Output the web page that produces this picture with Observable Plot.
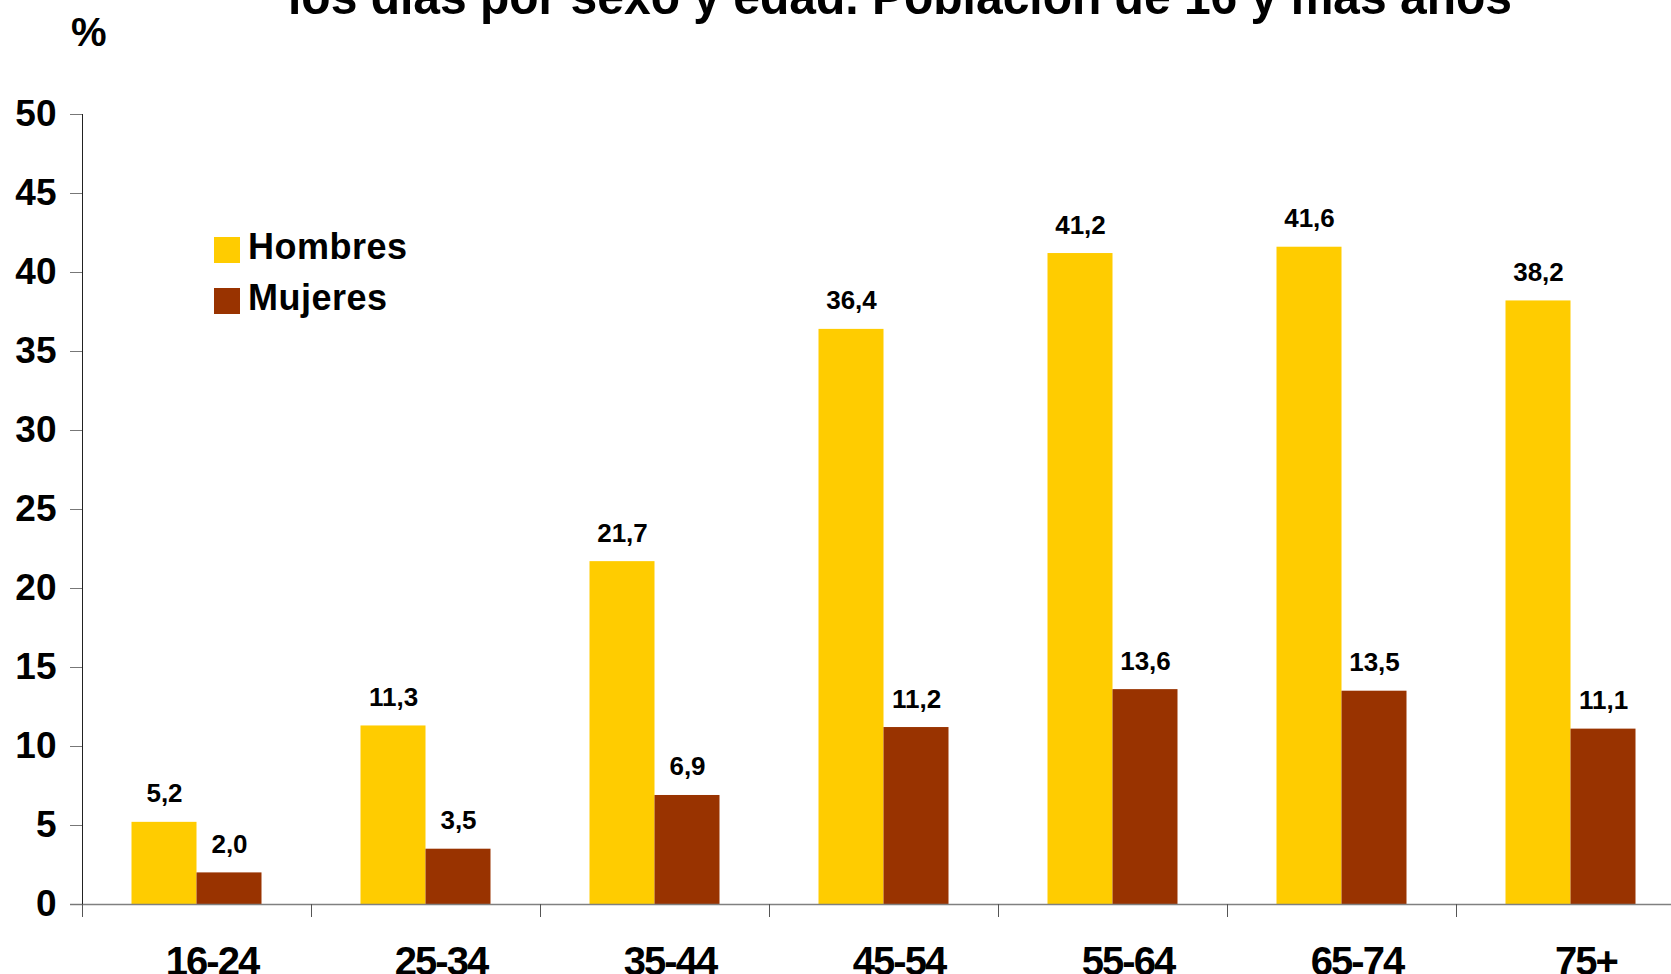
<!DOCTYPE html>
<html>
<head>
<meta charset="utf-8">
<script src="https://cdn.jsdelivr.net/npm/d3@7"></script>
<script src="https://cdn.jsdelivr.net/npm/@observablehq/plot@0.6"></script>
<style>
  body { margin: 0; background: #fff; overflow: hidden; font-family: "Liberation Sans", Arial, sans-serif; }
  #wrap { position: relative; width: 1671px; height: 974px; overflow: hidden; background: #fff; }
  #overlay { position: absolute; left: 0; top: 0; pointer-events: none; }
  #legend { position: absolute; left: 214px; top: 221px; font-weight: bold; font-size: 36px; color: #000; letter-spacing: 0.5px; }
  #legend .row { display: flex; align-items: center; height: 51px; }
  #legend .sw { width: 26px; height: 26px; margin-right: 8px; margin-top: 6px; }
</style>
</head>
<body>
<div id="wrap"></div>
<script>
// ---- data ----
const ages = ["16-24", "25-34", "35-44", "45-54", "55-64", "65-74", "75+"];
const series = ["Hombres", "Mujeres"];
const hombres = [5.2, 11.3, 21.7, 36.4, 41.2, 41.6, 38.2];
const mujeres = [2.0, 3.5, 6.9, 11.2, 13.6, 13.5, 11.1];
const yTicks = [0, 5, 10, 15, 20, 25, 30, 35, 40, 45, 50];
const colors = ["#FFCC00", "#993300"];
const titleText = "los días por sexo y edad. Población de 16 y más años";
const unitLabel = "%";

const data = ages.flatMap((a, i) => [
  {age: a, sex: series[0], value: hombres[i]},
  {age: a, sex: series[1], value: mujeres[i]}
]);
const fmt = v => v.toFixed(1).replace(".", ",");

// ---- layout ----
const W = 1671, H = 974;
const step = 229, barW = 65, pad = 49.5;
const xLeft = 82;
const font = '"Liberation Sans", Arial, sans-serif';

const isH = d => d.sex === series[0];
const isM = d => d.sex === series[1];

const chart = Plot.plot({
  width: W, height: H,
  marginTop: 114, marginBottom: 70, marginLeft: xLeft, marginRight: 0,
  style: {fontFamily: font, background: "white", color: "black", overflow: "visible"},
  x: {domain: ages, range: [xLeft, xLeft + step * ages.length], padding: 0},
  y: {domain: [0, 50], range: [904, 114]},
  color: {domain: series, range: colors},
  marks: [
    Plot.barY(data.filter(isH), {x: "age", y: "value", fill: "sex", insetLeft: pad, insetRight: step - pad - barW}),
    Plot.barY(data.filter(isM), {x: "age", y: "value", fill: "sex", insetLeft: pad + barW, insetRight: step - pad - 2 * barW}),
    Plot.text(data.filter(isH), {x: "age", y: "value", text: d => fmt(d.value), dx: -barW / 2, dy: -20, lineAnchor: "bottom", fontSize: 26, fontWeight: "bold", fill: "black"}),
    Plot.text(data.filter(isM), {x: "age", y: "value", text: d => fmt(d.value), dx: barW / 2, dy: -20, lineAnchor: "bottom", fontSize: 26, fontWeight: "bold", fill: "black"}),
    Plot.ruleY([0], {stroke: "#808080", strokeWidth: 1.5, insetLeft: -12}),
    Plot.ruleX([ages[0]], {dx: -step / 2, y1: 0, y2: 50, stroke: "#222", strokeWidth: 1}),
    Plot.axisY({ticks: yTicks, tickSize: 12, tickPadding: 14, fontSize: 37, fontWeight: "bold", stroke: "#777", label: null}),
    Plot.axisX({tickSize: 13, tickFormat: () => "", dx: -step / 2, stroke: "#555", label: null}),
    Plot.axisX({tickSize: 0, tickPadding: 42, fontSize: 40, fontWeight: "bold", dx: 15, label: null})
  ]
});

const wrap = document.getElementById("wrap");
wrap.appendChild(chart);

// text colours & condensed x labels
d3.select(chart).selectAll('g[aria-label="y-axis tick label"]').attr("fill", "black");
d3.select(chart).selectAll('g[aria-label="y-axis tick label"] text').attr("fill", "black");
d3.select(chart).selectAll('g[aria-label="x-axis tick label"]').attr("fill", "black").style("letter-spacing", "-2px");

// overlay: title (cut off at top) and unit label
const ov = d3.select(wrap).append("svg").attr("id", "overlay").attr("width", W).attr("height", 80);
ov.append("text")
  .attr("x", 900).attr("y", 14)
  .attr("text-anchor", "middle")
  .attr("font-family", font).attr("font-weight", "bold").attr("font-size", 50)
  .attr("textLength", 1224).attr("lengthAdjust", "spacingAndGlyphs")
  .text(titleText);
ov.append("text")
  .attr("x", 88.7).attr("y", 46)
  .attr("text-anchor", "middle")
  .attr("font-family", font).attr("font-weight", "bold").attr("font-size", 40)
  .text(unitLabel);

// legend
const lg = d3.select(wrap).append("div").attr("id", "legend");
series.forEach((s, i) => {
  const row = lg.append("div").attr("class", "row");
  row.append("div").attr("class", "sw").style("background", colors[i]);
  row.append("span").text(s);
});
</script>
</body>
</html>
